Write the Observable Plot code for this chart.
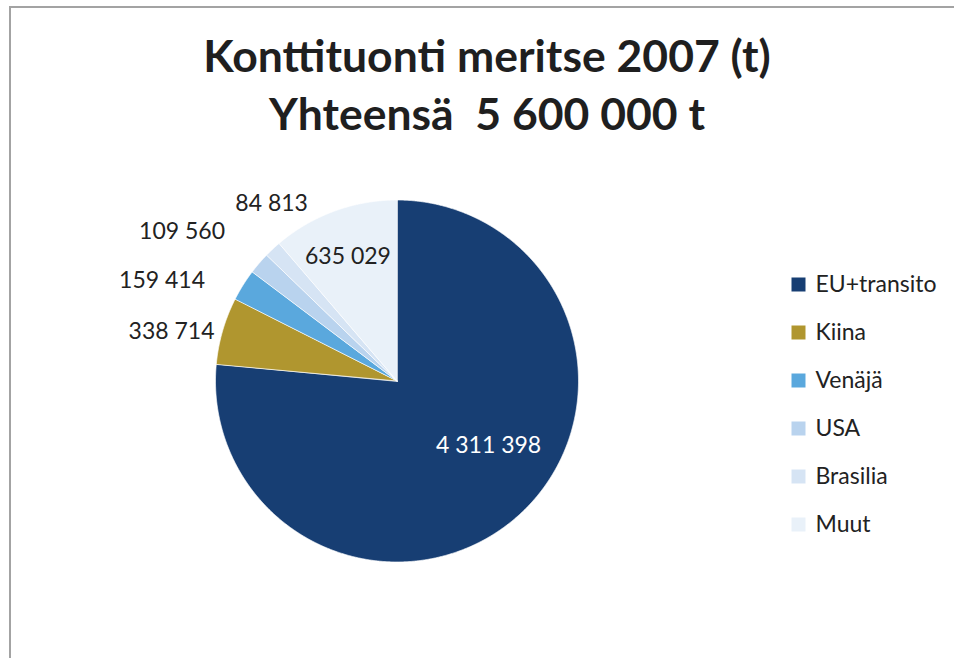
<!DOCTYPE html>
<html>
<head>
<meta charset="utf-8">
<script src="https://cdn.jsdelivr.net/npm/d3@7"></script>
<script src="https://cdn.jsdelivr.net/npm/@observablehq/plot@0.6"></script>
<style>
  html, body { margin: 0; padding: 0; background: #fff; }
  #wrap { position: relative; width: 954px; height: 658px; overflow: hidden; font-family: Lato, "Open Sans", sans-serif; }
  #border { position: absolute; left: 9px; top: 6px; width: 1000px; height: 700px; border-left: 2px solid #a3a3a3; border-top: 2px solid #a3a3a3; }
  #title { position: absolute; left: 0; width: 974px; top: 26px; text-align: center; font-weight: 700; font-size: 44.5px; line-height: 58px; color: #1f1f1f; white-space: pre; }
  #pie { position: absolute; left: 0; top: 0; }
  #legend { position: absolute; left: 780px; top: 250px; }
  svg { overflow: visible; }
</style>
</head>
<body>
<div id="wrap">
  <div id="border"></div>
  <div id="pie"></div>
  <div id="legend"></div>
  <div id="title"></div>
</div>
<script>
// ---- data ----
const titleLines = ["Konttituonti meritse 2007 (t)", "Yhteensä  5 600 000 t"];
const categories = ["EU+transito", "Kiina", "Venäjä", "USA", "Brasilia", "Muut"];
const values = [4311398, 338714, 159414, 109560, 84813, 635029];
const colors = ["#173e73", "#b0962f", "#5aa8dd", "#b9d3ee", "#d6e4f4", "#e9f1f9"];

// ---- layout / styling (not data) ----
const labelPlacement = [
  {k: 0.7, dx: 6, dy: -29, fill: "#ffffff"},
  {k: 1.0, dx: -51, dy: 1, fill: "#222"},
  {k: 1.0, dx: -81, dy: -5, fill: "#222"},
  {k: 1.0, dx: -77, dy: -32, fill: "#222"},
  {k: 1.0, dx: -1, dy: -46, fill: "#222"},
  {k: 0.7, dx: -5, dy: -6, fill: "#222"}
];

document.getElementById("title").textContent = titleLines.join("\n");

const fmt = v => String(v).replace(/\B(?=(\d{3})+(?!\d))/g, " ");
const rows = categories.map((name, i) => ({name, value: values[i], i}));
const arcs = d3.pie().sort(null).value(d => d.value)(rows);

// slice polygons in unit-circle coordinates (angle 0 = 12 o'clock, clockwise)
const poly = [];
for (const a of arcs) {
  const name = a.data.name;
  poly.push({name, x: 0, y: 0});
  const n = Math.max(2, Math.ceil((a.endAngle - a.startAngle) / (Math.PI / 720)));
  for (let j = 0; j <= n; j++) {
    const t = a.startAngle + (a.endAngle - a.startAngle) * j / n;
    poly.push({name, x: Math.sin(t), y: Math.cos(t)});
  }
}

const labels = arcs.map(a => {
  const m = (a.startAngle + a.endAngle) / 2;
  const p = labelPlacement[a.data.i];
  return {text: fmt(a.data.value), x: p.k * Math.sin(m), y: p.k * Math.cos(m), ...p};
});

const color = {domain: categories, range: colors};

const pie = Plot.plot({
  width: 954,
  height: 658,
  margin: 0,
  style: {background: "transparent", fontFamily: "Lato, 'Open Sans', sans-serif"},
  x: {domain: [-1, 1], range: [215, 578], axis: null},
  y: {domain: [-1, 1], range: [561.5, 199.5], axis: null},
  color,
  marks: [
    Plot.line(poly, {x: "x", y: "y", z: "name", fill: "name", stroke: "#ffffff", strokeWidth: 0.7, strokeLinejoin: "round", curve: "linear-closed"}),
    ...labels.map(d => Plot.text([d], {x: "x", y: "y", text: "text", dx: d.dx, dy: d.dy, fill: d.fill, fontSize: 23, textAnchor: "middle"}))
  ]
});
document.getElementById("pie").appendChild(pie);

const legend = Plot.plot({
  width: 174,
  height: 300,
  margin: 0,
  style: {background: "transparent", fontFamily: "Lato, 'Open Sans', sans-serif"},
  y: {type: "point", domain: categories, range: [34, 274.7], padding: 0, axis: null},
  color,
  marks: [
    Plot.dot(categories, {y: d => d, frameAnchor: "left", dx: 18, symbol: "square", r: 7.9, fill: d => d, stroke: "none"}),
    Plot.text(categories, {y: d => d, frameAnchor: "left", dx: 35, text: d => d, textAnchor: "start", fontSize: 23, fill: "#222"})
  ]
});
document.getElementById("legend").appendChild(legend);
</script>
</body>
</html>
